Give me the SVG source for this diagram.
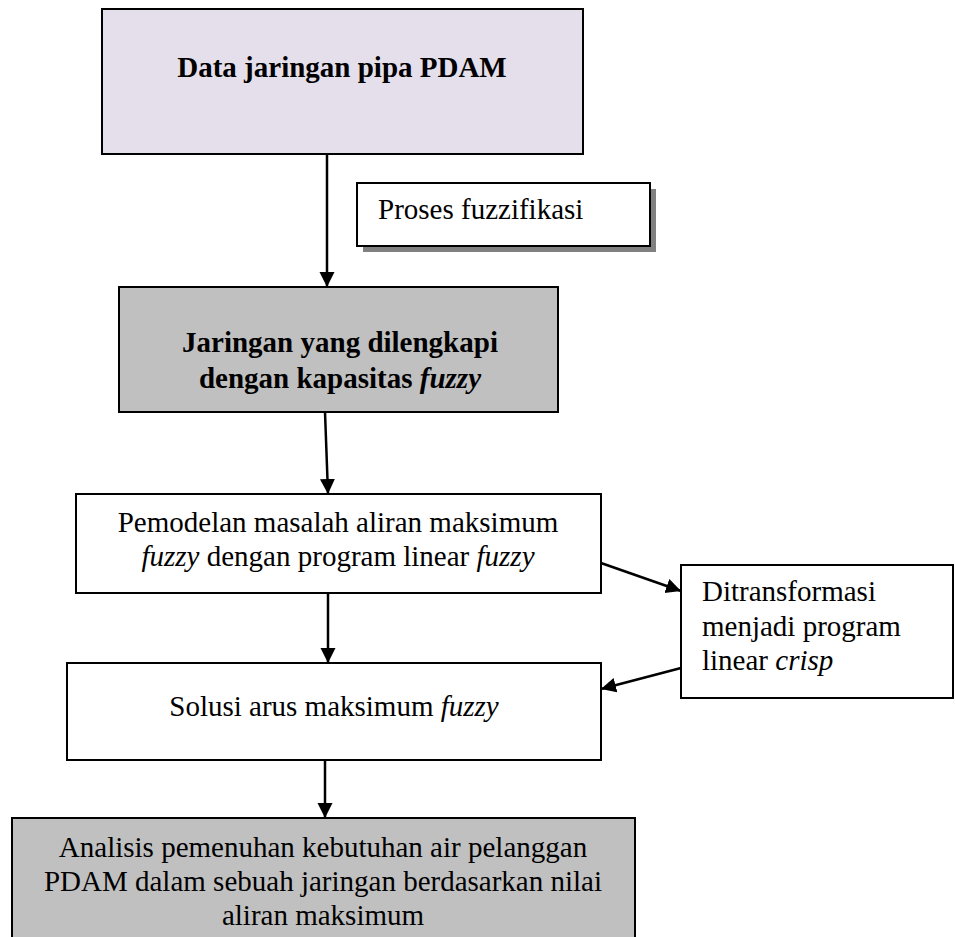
<svg xmlns="http://www.w3.org/2000/svg" width="955" height="937" viewBox="0 0 955 937">
<style>
text{font-family:"Liberation Serif","Times New Roman",serif;font-size:29px;fill:#000}
.b{font-weight:bold}
.i{font-style:italic}
.box{stroke:#000;stroke-width:2}
.c{text-anchor:middle}
.con{stroke:#000;stroke-width:2.5;fill:none;marker-end:url(#ah)}
</style>
<defs>
<marker id="ah" markerUnits="userSpaceOnUse" markerWidth="16" markerHeight="16" refX="15" refY="7.5" orient="auto">
<path d="M0,0 L15,7.5 L0,15 z" fill="#000"/>
</marker>
</defs>
<rect width="955" height="937" fill="#fff"/>
<g id="n1">
<rect class="box" x="102" y="9" width="481" height="145" fill="#e4dfeb"/>
<text class="b c" x="342" y="77">Data jaringan pipa PDAM</text>
</g>
<g id="n_proses">
<rect x="363" y="189" width="293" height="63" fill="#808080"/>
<rect class="box" x="357" y="183" width="293" height="63" fill="#fff"/>
<text x="378" y="219">Proses fuzzifikasi</text>
</g>
<g id="n2">
<rect class="box" x="119" y="287" width="439" height="125" fill="#c0c0c0"/>
<text class="b c" x="340" y="352">Jaringan yang dilengkapi</text>
<text class="b c" x="340" y="388">dengan kapasitas <tspan class="i">fuzzy</tspan></text>
</g>
<g id="n3">
<rect class="box" x="76" y="494" width="525" height="99" fill="#fff"/>
<text class="c" x="338" y="532">Pemodelan masalah aliran maksimum</text>
<text class="c" x="338" y="566"><tspan class="i">fuzzy</tspan> dengan program linear <tspan class="i">fuzzy</tspan></text>
</g>
<g id="n_trans">
<rect class="box" x="681" y="565" width="272" height="133" fill="#fff"/>
<text x="702" y="601">Ditransformasi</text>
<text x="702" y="636">menjadi program</text>
<text x="702" y="670">linear <tspan class="i">crisp</tspan></text>
</g>
<g id="n4">
<rect class="box" x="67" y="663" width="534" height="97" fill="#fff"/>
<text class="c" x="334" y="716">Solusi arus maksimum <tspan class="i">fuzzy</tspan></text>
</g>
<g id="n5">
<rect class="box" x="12" y="818" width="623" height="130" fill="#c0c0c0"/>
<text class="c" x="323" y="857">Analisis pemenuhan kebutuhan air pelanggan</text>
<text class="c" x="323" y="891">PDAM dalam sebuah jaringan berdasarkan nilai</text>
<text class="c" x="323" y="925">aliran maksimum</text>
</g>
<g id="connectors">
<line class="con" x1="327" y1="154" x2="327" y2="287"/>
<line class="con" x1="325" y1="412" x2="328" y2="494"/>
<line class="con" x1="328" y1="593" x2="328" y2="663"/>
<line class="con" x1="601" y1="563" x2="681" y2="591"/>
<line class="con" x1="681" y1="668" x2="601" y2="689"/>
<line class="con" x1="325" y1="760" x2="325" y2="818"/>
</g>
</svg>
